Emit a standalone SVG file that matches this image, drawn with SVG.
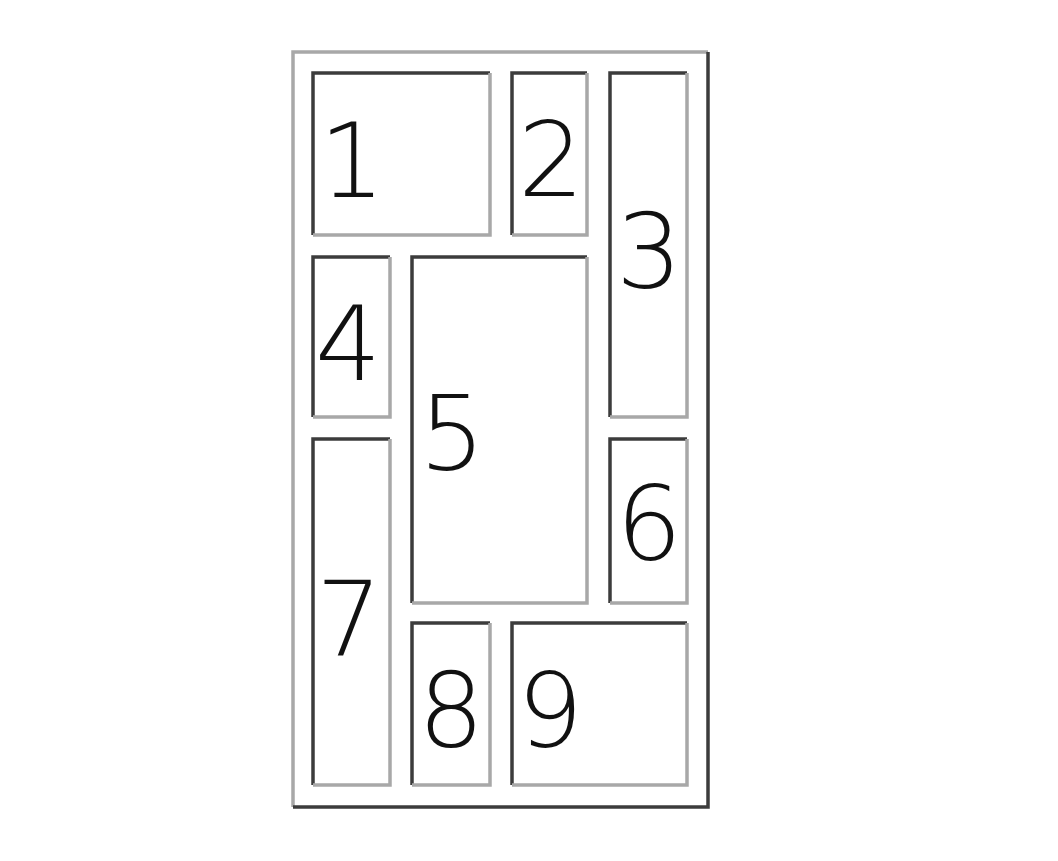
<svg xmlns="http://www.w3.org/2000/svg" width="1058" height="861" viewBox="0 0 1058 861">
<style>
.dk{fill:none;stroke:#3c3c3c;stroke-width:3.5}
.lt{fill:none;stroke:#a8a8a8;stroke-width:3.5}
.lbl{font-family:"DejaVu Sans","Liberation Sans",Arial,sans-serif;font-weight:200;font-size:104px;fill:#111;text-anchor:middle}
</style>
<rect width="1058" height="861" fill="#fff"/>
<g id="frame">
<path class="lt" d="M293,807 V52 H708"/>
<path class="dk" d="M708,52 V807 H293"/>
</g>
<g id="box1"><path class="dk" d="M313,235 V73 H490"/><path class="lt" d="M490,73 V235 H313"/><text class="lbl" x="352" y="197">1</text></g>
<g id="box2"><path class="dk" d="M512,235 V73 H587"/><path class="lt" d="M587,73 V235 H512"/><text class="lbl" x="551" y="196">2</text></g>
<g id="box3"><path class="dk" d="M610,417 V73 H687"/><path class="lt" d="M687,73 V417 H610"/><text class="lbl" x="649" y="288">3</text></g>
<g id="box4"><path class="dk" d="M313,417 V257 H390"/><path class="lt" d="M390,257 V417 H313"/><text class="lbl" x="348" y="380">4</text></g>
<g id="box5"><path class="dk" d="M412,603 V257 H587"/><path class="lt" d="M587,257 V603 H412"/><text class="lbl" x="452" y="470">5</text></g>
<g id="box6"><path class="dk" d="M610,603 V439 H687"/><path class="lt" d="M687,439 V603 H610"/><text class="lbl" x="649" y="560">6</text></g>
<g id="box7"><path class="dk" d="M313,785 V439 H390"/><path class="lt" d="M390,439 V785 H313"/><text class="lbl" x="349" y="655">7</text></g>
<g id="box8"><path class="dk" d="M412,785 V623 H490"/><path class="lt" d="M490,623 V785 H412"/><text class="lbl" x="451" y="747">8</text></g>
<g id="box9"><path class="dk" d="M512,785 V623 H687"/><path class="lt" d="M687,623 V785 H512"/><text class="lbl" x="550" y="747">9</text></g>
<g id="connectors"/>
</svg>
